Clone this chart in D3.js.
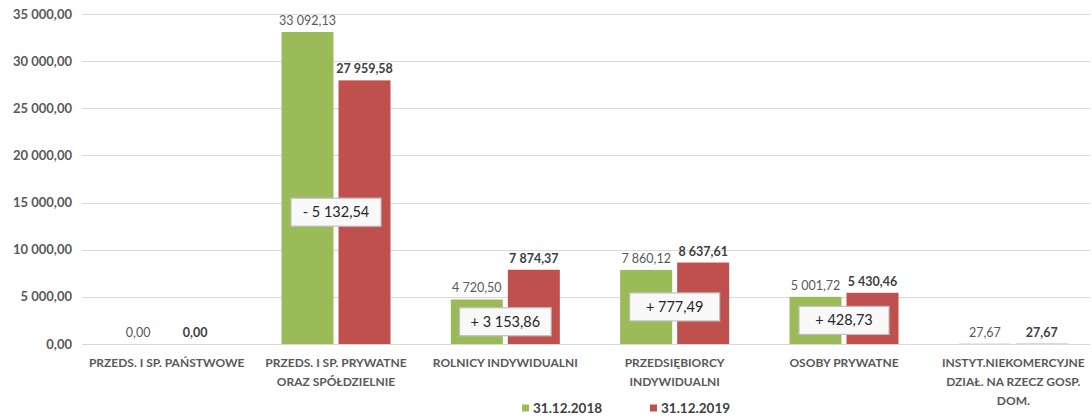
<!DOCTYPE html>
<html>
<head>
<meta charset="utf-8">
<script src="https://cdn.jsdelivr.net/npm/d3@7"></script>
<style>
  body { margin: 0; background: #fff; }
  svg { display: block; font-family: Lato, "Open Sans", sans-serif; }
</style>
</head>
<body>
<div id="chart"></div>
<script>
// data
var categories = [
  ['PRZEDS. I SP. PAŃSTWOWE'],
  ['PRZEDS. I SP. PRYWATNE', 'ORAZ SPÓŁDZIELNIE'],
  ['ROLNICY INDYWIDUALNI'],
  ['PRZEDSIĘBIORCY', 'INDYWIDUALNI'],
  ['OSOBY PRYWATNE'],
  ['INSTYT.NIEKOMERCYJNE', 'DZIAŁ. NA RZECZ GOSP.', 'DOM.']
];
var seriesNames = ['31.12.2018', '31.12.2019'];
var values2018 = [0, 33092.13, 4720.50, 7860.12, 5001.72, 27.67];
var values2019 = [0, 27959.58, 7874.37, 8637.61, 5430.46, 27.67];
// change labels as printed in the boxes (null = no box)
var changes = [null, -5132.54, 3153.86, 777.49, 428.73, null];
var yTicks = [0, 5000, 10000, 15000, 20000, 25000, 30000, 35000];

var width = 1092, height = 417;
var colors = ['#9bbb59', '#c0504d'];
var grey = '#595959';

var locale = d3.formatLocale({ decimal: ',', thousands: ' ', grouping: [3] });
var fmt = locale.format(',.2f');

var svg = d3.select('#chart').append('svg')
  .attr('width', width)
  .attr('height', height);

var x = d3.scaleBand()
  .domain(d3.range(categories.length))
  .range([82, 1098]);

var y = d3.scaleLinear()
  .domain([0, 35000])
  .range([344, 14]);

var barW = 52, barGap = 5;
function barX(i, s) {
  var c = x(i) + x.bandwidth() / 2;
  return s === 0 ? c - barGap / 2 - barW : c + barGap / 2;
}

// gridlines
svg.append('g')
  .selectAll('line')
  .data(yTicks)
  .join('line')
  .attr('x1', 82)
  .attr('x2', 1090)
  .attr('y1', function(d) { return Math.round(y(d)) + 0.5; })
  .attr('y2', function(d) { return Math.round(y(d)) + 0.5; })
  .attr('stroke', '#d9d9d9')
  .attr('stroke-width', 1);

// y tick labels
svg.append('g')
  .selectAll('text')
  .data(yTicks)
  .join('text')
  .attr('x', 72)
  .attr('y', function(d) { return y(d); })
  .attr('dy', '0.35em')
  .attr('text-anchor', 'end')
  .attr('font-size', 13)
  .attr('font-weight', 'bold')
  .attr('fill', grey)
  .text(function(d) { return fmt(d); });

// bars
var series = [values2018, values2019];
series.forEach(function(vals, s) {
  svg.append('g')
    .selectAll('rect')
    .data(vals)
    .join('rect')
    .attr('x', function(d, i) { return barX(i, s); })
    .attr('y', function(d) { return y(d); })
    .attr('width', barW)
    .attr('height', function(d) { return y(0) - y(d); })
    .attr('fill', colors[s]);

  svg.append('g')
    .selectAll('text')
    .data(vals)
    .join('text')
    .attr('x', function(d, i) { return barX(i, s) + barW / 2; })
    .attr('y', function(d) { return y(d) - 7; })
    .attr('text-anchor', 'middle')
    .attr('font-size', 12.5)
    .attr('font-weight', s === 1 ? 'bold' : 'normal')
    .attr('fill', s === 1 ? '#404040' : grey)
    .text(function(d) { return fmt(d); });
});

// change boxes
var boxes = svg.append('g')
  .selectAll('g')
  .data(changes.map(function(c, i) { return { i: i, c: c }; }).filter(function(d) { return d.c !== null; }))
  .join('g')
  .attr('transform', function(d) {
    var cx = x(d.i) + x.bandwidth() / 2;
    var cy = y(Math.min(values2018[d.i], values2019[d.i]) / 2);
    return 'translate(' + cx + ',' + cy + ')';
  });

boxes.append('text')
  .attr('text-anchor', 'middle')
  .attr('dy', '0.35em')
  .attr('font-size', 14.5)
  .attr('fill', '#262626')
  .text(function(d) { return (d.c < 0 ? '- ' : '+ ') + fmt(Math.abs(d.c)); });

boxes.each(function() {
  var g = d3.select(this);
  var bb = g.select('text').node().getBBox();
  var w = Math.max(90, bb.width + 22);
  g.insert('rect', 'text')
    .attr('x', -w / 2)
    .attr('y', -14)
    .attr('width', w)
    .attr('height', 28)
    .attr('fill', '#f9f9f9')
    .attr('stroke', '#bfbfbf')
    .attr('stroke-width', 1.2);
});

// category labels
var cat = svg.append('g')
  .selectAll('text')
  .data(categories)
  .join('text')
  .attr('x', function(d, i) { return x(i) + x.bandwidth() / 2; })
  .attr('y', 367)
  .attr('text-anchor', 'middle')
  .attr('font-size', 12)
  .attr('font-weight', 'bold')
  .attr('fill', grey);

cat.selectAll('tspan')
  .data(function(d) { return d; })
  .join('tspan')
  .attr('x', function() { return d3.select(this.parentNode).attr('x'); })
  .attr('dy', function(d, j) { return j === 0 ? 0 : 19; })
  .text(function(d) { return d; });

// legend
var legendX = [522, 650];
var legend = svg.append('g')
  .selectAll('g')
  .data(seriesNames)
  .join('g')
  .attr('transform', function(d, i) { return 'translate(' + legendX[i] + ',408)'; });

legend.append('rect')
  .attr('x', 0)
  .attr('y', -3.5)
  .attr('width', 7)
  .attr('height', 7)
  .attr('fill', function(d, i) { return colors[i]; });

legend.append('text')
  .attr('x', 11)
  .attr('dy', '0.35em')
  .attr('font-size', 13.5)
  .attr('font-weight', 'bold')
  .attr('fill', '#404040')
  .text(function(d) { return d; });
</script>
</body>
</html>
